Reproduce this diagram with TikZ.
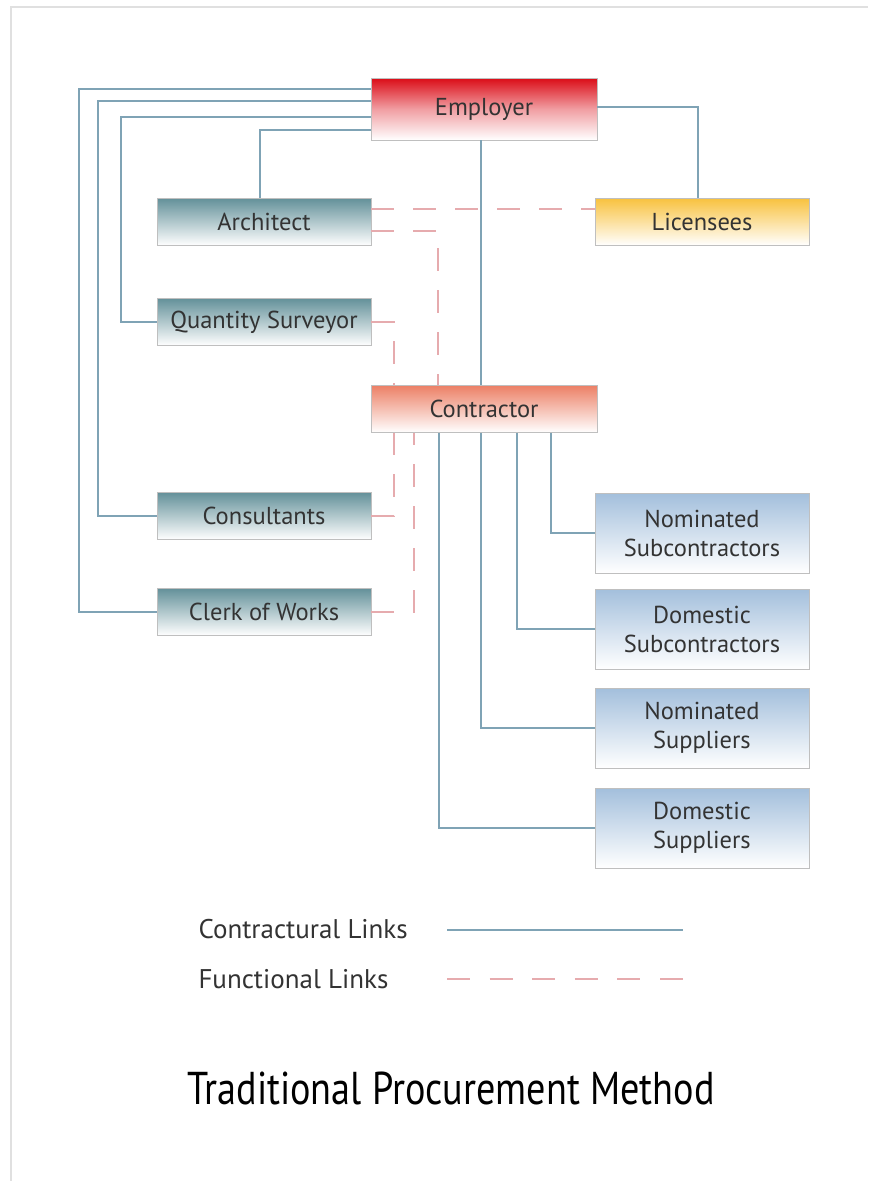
\documentclass[tikz,border=0pt]{standalone}
\usepackage{fontspec}
\setmainfont{PT Sans}
\newfontfamily\titlefont{PT Sans}
\definecolor{clink}{HTML}{7FA3B5}
\definecolor{flink}{HTML}{E6ABAE}
\definecolor{txt}{HTML}{333333}
\definecolor{redtop}{HTML}{DB0C17}
\definecolor{orangetop}{HTML}{EC8066}
\definecolor{tealtop}{HTML}{64919A}
\definecolor{yellowtop}{HTML}{F8C240}
\definecolor{bluetop}{HTML}{A3BFDC}
\begin{document}
\begin{tikzpicture}[x=1pt,y=-1pt,
  box/.style={draw=black!25, line width=0.8pt, inner sep=0pt, align=center,
    text=txt, font=\fontsize{24.5}{29}\selectfont, minimum width=214pt, minimum height=47pt},
  wide/.style={minimum width=226pt},
  redbox/.style={box, wide, top color=redtop, bottom color=white, middle color=redtop!40},
  orangebox/.style={box, wide, top color=orangetop, bottom color=white},
  tealbox/.style={box, top color=tealtop, bottom color=white},
  yellowbox/.style={box, top color=yellowtop, bottom color=white},
  bluebox/.style={box, minimum height=80pt, top color=bluetop, bottom color=white},
  cl/.style={draw=clink, line width=1.4pt},
  fl/.style={draw=flink, line width=2.6pt, dash pattern=on 23pt off 19pt},
  legend/.style={anchor=west, text=txt, font=\fontsize{27}{31}\selectfont}
]
\useasboundingbox (0,0) rectangle (868,1181);
\fill[white] (0,0) rectangle (868,1181);
\draw[black!12, line width=2pt] (11,1181) -- (11,7) -- (868,7);

% nodes
\node[redbox, minimum height=62pt] (emp) at (484,109) {Employer};
\node[tealbox] (arch) at (264,222) {Architect};
\node[yellowbox] (lic) at (702,222) {Licensees};
\node[tealbox] (qs) at (264,322) {Quantity Surveyor};
\node[orangebox] (con) at (484,409) {Contractor};
\node[tealbox] (cons) at (264,516) {Consultants};
\node[tealbox] (clerk) at (264,612) {Clerk of Works};
\node[bluebox] (nsub) at (702,533) {Nominated\\Subcontractors};
\node[bluebox] (dsub) at (702,629) {Domestic\\Subcontractors};
\node[bluebox] (nsup) at (702,728) {Nominated\\Suppliers};
\node[bluebox] (dsup) at (702,828) {Domestic\\Suppliers};

% contractual links
\draw[cl] (emp.west |- 0,89) -| (79,0 |- clerk.west) -- (clerk.west);
\draw[cl] (emp.west |- 0,101) -| (98,0 |- cons.west) -- (cons.west);
\draw[cl] (emp.west |- 0,117) -| (121,0 |- qs.west) -- (qs.west);
\draw[cl] (emp.west |- 0,130) -| (260,0 |- arch.north);
\draw[cl] (emp.east |- 0,107) -| (698,0 |- lic.north);
\draw[cl] (481,0 |- emp.south) -- (481,0 |- con.north);
\draw[cl] (551,0 |- con.south) |- (nsub.west);
\draw[cl] (517,0 |- con.south) |- (dsub.west);
\draw[cl] (481,0 |- con.south) |- (nsup.west);
\draw[cl] (439,0 |- con.south) |- (dsup.west);

% functional links
\draw[fl] (arch.east |- 0,209) -- (lic.west |- 0,209);
\draw[fl] (arch.east |- 0,231) -| (438,0 |- con.north);
\draw[fl] (qs.east) -| (394,0 |- con.north);
\draw[fl] (cons.east) -| (394,0 |- con.south);
\draw[fl] (clerk.east) -| (414,0 |- con.south);

% legend
\node[legend] (lc) at (195,929) {Contractural Links};
\node[legend] (lf) at (195,979) {Functional Links};
\coordinate (lc1) at (447,930);
\coordinate (lc2) at (683,930);
\coordinate (lf1) at (447,979);
\coordinate (lf2) at (683,979);
\draw[cl] (lc1) -- (lc2);
\draw[fl, dash pattern=on 23pt off 19.6pt] (lf1) -- (lf2);

% title
\node[text=black, font=\titlefont\fontsize{46}{50}\selectfont] (title) at (451,1088)
  {\scalebox{0.83}[1]{Traditional Procurement Method}};
\end{tikzpicture}
\end{document}
